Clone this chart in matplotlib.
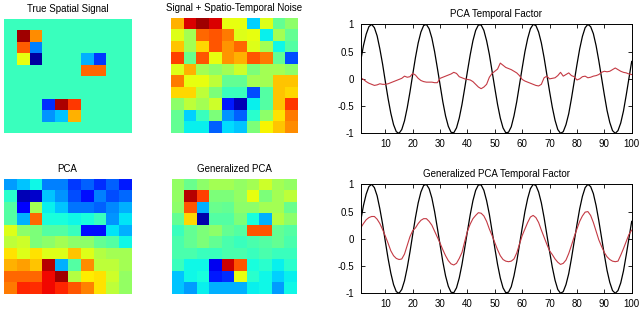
import numpy as np
import matplotlib
matplotlib.use("Agg")
import matplotlib.pyplot as plt

plt.rcParams['font.family'] = ['Liberation Sans', 'DejaVu Sans']

# spatial maps, 10x10, values on the jet scale 0..1
bg = 0.42
true_signal = np.full((10, 10), bg)
true_signal[1, 1:3] = [0.97, 0.76]
true_signal[2, 1:3] = [0.81, 0.25]
true_signal[3, 1:3] = [0.63, 0.03]
true_signal[3, 6:8] = [0.30, 0.18]
true_signal[4, 6:8] = [0.80, 0.80]
true_signal[7, 3:6] = [0.17, 0.96, 0.85]
true_signal[8, 3:6] = [0.27, 0.32, 0.72]

noisy_signal = np.array([
    [0.72, 0.92, 0.97, 0.92, 0.63, 0.63, 0.33, 0.62, 0.47, 0.52],
    [0.62, 0.55, 0.80, 0.82, 0.78, 0.62, 0.63, 0.36, 0.55, 0.47],
    [0.70, 0.55, 0.68, 0.82, 0.75, 0.80, 0.62, 0.55, 0.37, 0.45],
    [0.84, 0.48, 0.82, 0.63, 0.75, 0.72, 0.82, 0.78, 0.47, 0.20],
    [0.62, 0.72, 0.55, 0.52, 0.55, 0.60, 0.50, 0.55, 0.55, 0.52],
    [0.78, 0.63, 0.63, 0.58, 0.47, 0.47, 0.55, 0.55, 0.70, 0.70],
    [0.68, 0.68, 0.58, 0.50, 0.42, 0.42, 0.20, 0.45, 0.70, 0.68],
    [0.52, 0.58, 0.55, 0.60, 0.15, 0.05, 0.36, 0.45, 0.70, 0.85],
    [0.47, 0.33, 0.42, 0.50, 0.27, 0.22, 0.40, 0.52, 0.67, 0.78],
    [0.47, 0.36, 0.36, 0.22, 0.34, 0.32, 0.50, 0.65, 0.70, 0.76],
])

pca_map = np.array([
    [0.28, 0.32, 0.37, 0.25, 0.25, 0.18, 0.22, 0.17, 0.22, 0.15],
    [0.40, 0.05, 0.07, 0.32, 0.27, 0.20, 0.14, 0.25, 0.20, 0.23],
    [0.45, 0.12, 0.55, 0.36, 0.32, 0.24, 0.24, 0.22, 0.26, 0.30],
    [0.45, 0.30, 0.80, 0.38, 0.38, 0.37, 0.38, 0.42, 0.27, 0.35],
    [0.62, 0.52, 0.50, 0.45, 0.45, 0.42, 0.14, 0.14, 0.35, 0.30],
    [0.58, 0.60, 0.50, 0.52, 0.55, 0.52, 0.52, 0.47, 0.45, 0.37],
    [0.67, 0.62, 0.67, 0.62, 0.62, 0.70, 0.62, 0.57, 0.55, 0.55],
    [0.72, 0.74, 0.70, 0.95, 0.30, 0.45, 0.76, 0.58, 0.58, 0.55],
    [0.80, 0.80, 0.80, 0.90, 0.97, 0.57, 0.66, 0.67, 0.60, 0.53],
    [0.78, 0.87, 0.86, 0.90, 0.87, 0.82, 0.77, 0.67, 0.58, 0.53],
])

gpca_map = np.array([
    [0.53, 0.48, 0.52, 0.55, 0.55, 0.53, 0.55, 0.60, 0.55, 0.53],
    [0.53, 0.95, 0.84, 0.50, 0.50, 0.53, 0.63, 0.50, 0.55, 0.58],
    [0.52, 0.82, 0.30, 0.48, 0.47, 0.52, 0.52, 0.55, 0.55, 0.48],
    [0.47, 0.68, 0.04, 0.45, 0.45, 0.50, 0.38, 0.30, 0.57, 0.52],
    [0.42, 0.47, 0.50, 0.52, 0.47, 0.45, 0.82, 0.82, 0.47, 0.45],
    [0.44, 0.47, 0.50, 0.47, 0.44, 0.42, 0.44, 0.45, 0.47, 0.44],
    [0.44, 0.44, 0.42, 0.42, 0.44, 0.44, 0.42, 0.44, 0.42, 0.42],
    [0.42, 0.37, 0.37, 0.10, 0.93, 0.82, 0.38, 0.40, 0.36, 0.40],
    [0.32, 0.37, 0.38, 0.15, 0.17, 0.63, 0.40, 0.37, 0.33, 0.36],
    [0.32, 0.28, 0.36, 0.30, 0.30, 0.30, 0.36, 0.37, 0.28, 0.37],
])

# temporal factors, t = 1..100
t = np.arange(1, 101)
true_time = [
    0.33, 0.61, 0.82, 0.96, 1.00, 0.94, 0.79, 0.55, 0.27, -0.05,
    -0.36, -0.63, -0.84, -0.97, -1.00, -0.93, -0.77, -0.53, -0.24, 0.08,
    0.39, 0.66, 0.86, 0.98, 1.00, 0.92, 0.75, 0.50, 0.20, -0.11,
    -0.42, -0.68, -0.87, -0.98, -0.99, -0.90, -0.72, -0.47, -0.17, 0.14,
    0.44, 0.70, 0.89, 0.99, 0.99, 0.89, 0.70, 0.45, 0.14, -0.17,
    -0.47, -0.72, -0.90, -0.99, -0.98, -0.88, -0.68, -0.42, -0.11, 0.20,
    0.50, 0.74, 0.92, 1.00, 0.98, 0.86, 0.66, 0.39, 0.08, -0.23,
    -0.52, -0.76, -0.93, -1.00, -0.97, -0.84, -0.64, -0.36, -0.05, 0.26,
    0.55, 0.78, 0.94, 1.00, 0.96, 0.83, 0.61, 0.33, 0.02, -0.29,
    -0.58, -0.80, -0.95, -1.00, -0.95, -0.81, -0.59, -0.30, 0.01, 0.32,
]
pca_time = [
    0.02, -0.01, -0.05, -0.08, -0.10, -0.12, -0.11, -0.09, -0.10, -0.10,
    -0.09, -0.07, -0.05, -0.03, -0.01, 0.01, 0.05, 0.03, 0.04, 0.10,
    0.07, 0.01, -0.03, -0.05, -0.06, -0.06, -0.06, -0.07, -0.07, 0.01,
    0.03, 0.05, 0.07, 0.09, 0.12, 0.10, 0.04, 0.02, 0.00, -0.01,
    -0.02, -0.05, -0.10, -0.15, -0.18, -0.15, -0.10, 0.03, 0.10, 0.14,
    0.18, 0.29, 0.25, 0.21, 0.19, 0.17, 0.14, 0.11, 0.06, -0.01,
    -0.04, -0.06, -0.08, -0.10, -0.12, -0.13, -0.10, 0.02, 0.05, 0.00,
    0.01, 0.02, 0.06, 0.12, 0.05, 0.08, 0.11, 0.06, 0.04, -0.02,
    0.00, 0.04, 0.05, 0.02, 0.03, 0.05, 0.06, 0.08, 0.12, 0.14,
    0.13, 0.14, 0.17, 0.20, 0.17, 0.14, 0.12, 0.11, 0.09, 0.08,
]
gpca_time = [
    0.20, 0.28, 0.35, 0.39, 0.41, 0.41, 0.36, 0.28, 0.17, 0.05,
    -0.08, -0.22, -0.31, -0.36, -0.38, -0.37, -0.28, -0.12, 0.04, 0.15,
    0.20, 0.28, 0.34, 0.37, 0.37, 0.32, 0.25, 0.14, 0.03, -0.08,
    -0.20, -0.31, -0.40, -0.46, -0.48, -0.45, -0.36, -0.25, -0.05, 0.14,
    0.27, 0.37, 0.43, 0.48, 0.47, 0.42, 0.32, 0.18, 0.06, -0.07,
    -0.20, -0.31, -0.38, -0.41, -0.42, -0.41, -0.37, -0.26, -0.10, 0.06,
    0.18, 0.30, 0.40, 0.43, 0.39, 0.30, 0.16, 0.03, -0.10, -0.22,
    -0.29, -0.37, -0.43, -0.47, -0.45, -0.39, -0.27, -0.12, 0.04, 0.18,
    0.32, 0.42, 0.49, 0.50, 0.43, 0.30, 0.14, -0.02, -0.14, -0.25,
    -0.33, -0.38, -0.41, -0.42, -0.41, -0.30, -0.18, -0.05, 0.08, 0.16,
]

fig = plt.figure(figsize=(6.4, 3.13), dpi=100)

maps = [
    (true_signal, 'True Spatial Signal', [0.006, 0.575, 0.199, 0.364]),
    (noisy_signal, 'Signal + Spatio-Temporal Noise', [0.267, 0.575, 0.198, 0.367]),
    (pca_map, 'PCA', [0.006, 0.061, 0.199, 0.367]),
    (gpca_map, 'Generalized PCA', [0.269, 0.061, 0.195, 0.367]),
]
for data, title, rect in maps:
    ax = fig.add_axes(rect)
    ax.imshow(data, cmap='jet', vmin=0, vmax=1, aspect='auto',
              interpolation='nearest')
    ax.set_axis_off()
    ax.set_title(title, fontsize=7, pad=5)

lines = [
    (pca_time, 'PCA Temporal Factor', [0.5636, 0.574, 0.4234, 0.348]),
    (gpca_time, 'Generalized PCA Temporal Factor', [0.5636, 0.063, 0.4234, 0.348]),
]
for est, title, rect in lines:
    ax = fig.add_axes(rect)
    ax.plot(t, true_time, color='black', lw=0.9)
    ax.plot(t, est, color='#c43a44', lw=0.8)
    ax.set_xlim(1, 100)
    ax.set_ylim(-1, 1)
    ax.set_xticks(np.arange(10, 101, 10))
    ax.set_yticks([-1, -0.5, 0, 0.5, 1])
    ax.set_yticklabels(['-1', '-0.5', '0', '0.5', '1'])
    ax.tick_params(direction='in', length=3, width=0.6, labelsize=7,
                   top=True, right=True)
    ax.tick_params(axis='x', pad=4)
    ax.tick_params(axis='y', pad=5)
    for s in ax.spines.values():
        s.set_linewidth(0.7)
    ax.set_title(title, fontsize=7, pad=5)

fig.savefig('out.png', dpi=100)
